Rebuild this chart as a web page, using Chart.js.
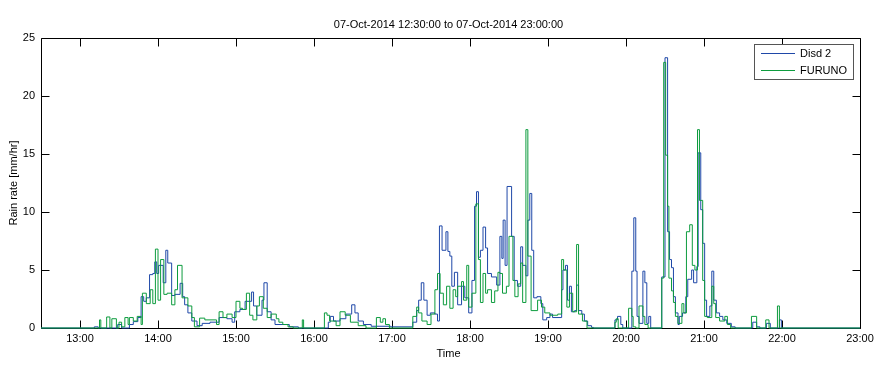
<!DOCTYPE html>
<html>
<head>
<meta charset="utf-8">
<script src="https://cdn.jsdelivr.net/npm/chart.js@4"></script>
<style>
  html, body { margin: 0; padding: 0; background: #fff; }
  #wrap { width: 882px; height: 373px; }
</style>
</head>
<body>
<div id="wrap"><canvas id="chart" width="882" height="373"></canvas></div>
<script>
const chartTitle = "07-Oct-2014 12:30:00 to 07-Oct-2014 23:00:00";
const yAxisTitle = "Rain rate [mm/hr]";
const xAxisTitle = "Time";
const seriesNames = ["Disd 2", "FURUNO"];
const xStart = "12:30:00";
const xEnd = "23:00:00";
const xTickLabels = ["13:00", "14:00", "15:00", "16:00", "17:00", "18:00",
  "19:00", "20:00", "21:00", "22:00", "23:00"];
const yTickValues = [0, 5, 10, 15, 20, 25];

// step series: each rate holds from its time until the next time
const disdTimes = [
  "12:30:00", "13:11:00", "13:14:00", "13:29:00", "13:32:00", "13:38:00", "13:41:00", "13:44:30",
  "13:47:00", "13:49:00", "13:51:00", "13:53:30", "13:56:00", "13:57:30", "13:59:00", "14:00:30",
  "14:04:00", "14:06:00", "14:07:30", "14:10:30", "14:13:00", "14:17:00", "14:19:00", "14:20:30",
  "14:23:00", "14:26:00", "14:30:00", "14:34:00", "14:40:00", "14:47:00", "14:53:00", "14:57:00",
  "14:59:00", "15:03:00", "15:07:00", "15:12:00", "15:13:30", "15:16:00", "15:20:00", "15:21:30",
  "15:24:00", "15:27:00", "15:30:00", "15:41:00", "15:48:00", "16:11:00", "16:12:30", "16:15:00",
  "16:20:00", "16:24:30", "16:29:00", "16:31:30", "16:34:00", "16:38:00", "16:44:00", "16:59:00",
  "17:16:00", "17:19:00", "17:20:30", "17:22:30", "17:24:30", "17:27:00", "17:29:30", "17:33:00",
  "17:35:00", "17:36:30", "17:38:30", "17:41:30", "17:43:00", "17:44:30", "17:46:00", "17:48:00",
  "17:50:30", "17:53:30", "17:56:00", "17:59:00", "18:01:30", "18:03:30", "18:05:00", "18:06:30",
  "18:08:00", "18:10:00", "18:12:00", "18:13:30", "18:16:30", "18:20:30", "18:23:00", "18:24:30",
  "18:25:30", "18:27:00", "18:28:30", "18:32:00", "18:34:00", "18:36:30", "18:39:00", "18:40:30",
  "18:43:00", "18:44:30", "18:46:00", "18:47:30", "18:49:00", "18:51:30", "18:54:30", "18:56:00",
  "18:59:00", "19:01:30", "19:03:30", "19:10:30", "19:11:30", "19:13:30", "19:15:00", "19:16:30",
  "19:18:00", "19:20:30", "19:22:00", "19:23:30", "19:26:00", "19:28:00", "19:30:30", "19:33:30",
  "19:35:00", "19:51:30", "19:53:30", "19:56:00", "19:57:30", "20:04:30", "20:06:00", "20:07:30",
  "20:08:30", "20:10:00", "20:13:00", "20:14:30", "20:16:00", "20:17:30", "20:19:00", "20:27:30",
  "20:30:00", "20:32:00", "20:33:30", "20:35:00", "20:36:30", "20:38:00", "20:40:00", "20:41:00",
  "20:43:30", "20:46:00", "20:47:30", "20:50:30", "20:52:00", "20:54:30", "20:55:30", "20:57:30",
  "20:59:00", "21:00:30", "21:02:00", "21:04:30", "21:06:00", "21:07:30", "21:09:30", "21:12:00",
  "21:14:30", "21:17:30", "21:21:00", "21:24:00", "21:37:30", "21:40:30", "21:43:00", "21:48:00",
  "21:51:00", "21:58:00", "21:59:30", "23:00:00"
];
const disdRates = [
  0, 0.1, 0, 0.3, 0, 0.3, 0.55, 0.9,
  2.7, 2.3, 2.6, 4.6, 4.7, 5.7, 4.7, 5.4,
  3.9, 6.7, 5.6, 2.8, 2.9, 3.85, 2.7, 2.0,
  1.3, 0.6, 0.2, 0.4, 0.5, 0.9, 0.8, 0.5,
  1.4, 1.6, 2.3, 3.1, 1.9, 1.1, 2.4, 3.9,
  1.4, 0.7, 0.3, 0.1, 0, 0.5, 1.0, 0.6,
  0.8, 1.2, 2.0, 1.3, 0.6, 0.3, 0.15, 0.1,
  0.5, 1.5, 2.4, 3.9, 2.4, 1.1, 1.3, 1.2,
  0.6, 8.8, 6.7, 8.3, 6.6, 6.2, 3.6, 4.8,
  2.0, 3.6, 2.6, 1.3, 4.1, 10.5, 11.75, 6.1,
  6.7, 8.7, 6.9, 4.7, 4.4, 3.7, 7.9, 6.0,
  9.3, 5.4, 12.2, 7.9, 4.1, 3.6, 7.0, 5.4,
  4.5, 9.3, 11.6, 6.7, 2.6, 2.7, 2.1, 0.7,
  0.9, 1.2, 0.9, 3.3, 5.0, 5.4, 2.4, 3.6,
  1.4, 1.5, 3.7, 1.5, 1.2, 0.6, 0.2, 0.05,
  0, 0.7, 1.0, 0.3, 0, 4.9, 9.5, 4.9,
  1.0, 0.4, 4.9, 3.9, 0.4, 1.0, 0, 4.4,
  23.3, 8.3, 5.9, 5.2, 2.7, 1.3, 0.3, 1.0,
  1.3, 2.7, 4.2, 5.0, 3.9, 5.3, 15.1, 10.2,
  7.3, 2.4, 1.0, 1.9, 4.9, 2.4, 1.3, 1.0,
  0.7, 0.4, 0.1, 0, 0.5, 0.1, 0, 0.4,
  0, 0.7, 0, 0
];

const furunoTimes = [
  "12:30:00", "13:15:00", "13:16:00", "13:20:30", "13:23:00", "13:24:30", "13:28:00", "13:30:00",
  "13:32:00", "13:34:30", "13:37:00", "13:38:00", "13:41:00", "13:44:00", "13:47:00", "13:48:00",
  "13:51:00", "13:54:00", "13:56:00", "13:58:00", "14:00:00", "14:02:00", "14:04:30", "14:07:00",
  "14:10:30", "14:13:00", "14:15:00", "14:18:30", "14:23:00", "14:26:00", "14:28:00", "14:32:00",
  "14:36:00", "14:45:00", "14:47:00", "14:50:00", "14:53:00", "14:57:00", "15:00:00", "15:03:00",
  "15:05:00", "15:08:00", "15:10:30", "15:13:00", "15:16:00", "15:18:00", "15:21:00", "15:24:00",
  "15:27:00", "15:31:00", "15:33:00", "15:36:00", "15:40:00", "15:44:00", "15:51:00", "15:52:00",
  "16:08:00", "16:10:00", "16:12:00", "16:17:00", "16:20:00", "16:24:00", "16:28:00", "16:34:00",
  "16:40:00", "16:48:00", "16:51:00", "16:53:00", "16:55:00", "16:58:00", "17:16:00", "17:19:00",
  "17:20:30", "17:23:00", "17:27:00", "17:30:00", "17:33:00", "17:35:00", "17:37:00", "17:39:30",
  "17:42:00", "17:44:30", "17:47:00", "17:49:00", "17:50:30", "17:53:30", "17:55:00", "17:57:30",
  "17:59:00", "18:01:30", "18:04:30", "18:06:30", "18:08:00", "18:10:00", "18:12:00", "18:13:30",
  "18:16:30", "18:19:00", "18:21:30", "18:23:00", "18:25:00", "18:28:00", "18:30:00", "18:33:00",
  "18:34:30", "18:37:00", "18:39:00", "18:40:30", "18:43:00", "18:44:30", "18:47:00", "18:52:00",
  "18:55:00", "18:57:30", "19:01:30", "19:07:30", "19:10:30", "19:12:00", "19:14:30", "19:16:30",
  "19:19:00", "19:22:00", "19:23:30", "19:26:30", "19:30:00", "19:51:30", "19:52:30", "19:54:00",
  "20:02:00", "20:04:30", "20:05:30", "20:07:30", "20:10:00", "20:13:00", "20:14:30", "20:17:00",
  "20:27:30", "20:29:00", "20:30:30", "20:32:00", "20:33:00", "20:35:00", "20:36:30", "20:38:00",
  "20:40:00", "20:43:00", "20:44:30", "20:46:30", "20:49:00", "20:51:00", "20:53:00", "20:55:00",
  "20:56:30", "20:59:00", "21:00:30", "21:02:30", "21:06:00", "21:07:30", "21:09:00", "21:12:00",
  "21:16:00", "21:18:00", "21:20:30", "21:36:30", "21:40:30", "21:47:30", "21:50:00", "21:56:30",
  "21:58:00", "23:00:00"
];
const furunoRates = [
  0, 0.7, 0, 0.95, 0, 0.8, 0, 0.5,
  0.1, 0.9, 0.3, 0.9, 0.6, 1.0, 0.3, 3.0,
  2.1, 3.3, 2.1, 6.8, 2.4, 5.9, 2.9, 3.0,
  2.0, 3.3, 5.4, 2.6, 1.9, 0.9, 0.1, 0.85,
  0.7, 0.3, 1.4, 0.9, 1.2, 0.9, 2.3, 1.7,
  1.6, 3.0, 1.1, 0.7, 1.9, 2.7, 1.7, 0.9,
  1.2, 0.8, 0.5, 0.3, 0.1, 0, 0.7, 0,
  1.3, 1.1, 0.6, 0.2, 1.4, 1.1, 0.5, 0.2,
  0, 0.9, 0.5, 0.8, 0.3, 0, 1.0, 1.8,
  1.3, 0.6, 0.3, 1.2, 3.3, 4.7, 3.0, 2.0,
  3.6, 1.7, 3.3, 2.7, 3.6, 4.0, 2.4, 5.4,
  1.8, 3.0, 10.7, 5.9, 2.2, 4.7, 3.0, 3.3,
  2.2, 3.2, 4.8, 4.7, 3.0, 3.6, 7.9, 4.1,
  2.7, 3.8, 5.6, 2.2, 17.1, 6.2, 1.5, 2.4,
  1.8, 1.3, 1.1, 1.2, 5.9, 5.0, 1.8, 3.0,
  1.4, 7.2, 1.2, 0.6, 0, 0.5, 0.8, 0,
  1.7, 1.0, 0.1, 0, 1.9, 1.0, 0.3, 0,
  4.3, 22.9, 14.9, 10.5, 4.3, 3.2, 2.2, 1.0,
  0.4, 2.1, 1.3, 8.3, 8.9, 5.4, 5.0, 17.1,
  11.0, 4.1, 1.0, 0.9, 3.6, 2.1, 0.9, 0.6,
  1.0, 0.3, 0, 1.0, 0, 0.7, 0, 1.9,
  0, 0
];

const blue = "#1f48a8";
const green = "#0d9c3e";
const fontFamily = "'Liberation Sans', Arial, sans-serif";

// "HH:MM[:SS]" -> minutes after midnight
function toMinutes(label) {
  const parts = label.split(":").map(Number);
  return parts[0] * 60 + parts[1] + (parts[2] || 0) / 60;
}

function toPoints(times, rates) {
  if (times.length !== rates.length) console.warn("length mismatch", times.length, rates.length);
  return times.map((t, i) => ({ x: toMinutes(t), y: rates[i] }));
}

function pad2(n) {
  return String(n).padStart(2, "0");
}

const framePlugin = {
  id: "matlabFrame",
  beforeDatasetsDraw(chart) {
    const { ctx, chartArea } = chart;
    const xScale = chart.scales.x;
    const yScale = chart.scales.y;
    const left = Math.round(chartArea.left) + 0.5;
    const right = Math.round(chartArea.right) + 0.5;
    const top = Math.round(chartArea.top) + 0.5;
    const bottom = Math.round(chartArea.bottom) + 0.5;
    const tick = 8;

    ctx.save();
    ctx.strokeStyle = "#000";
    ctx.lineWidth = 1;
    ctx.beginPath();
    ctx.rect(left, top, right - left, bottom - top);
    for (const label of xTickLabels) {
      const px = Math.round(xScale.getPixelForValue(toMinutes(label))) + 0.5;
      ctx.moveTo(px, bottom);
      ctx.lineTo(px, bottom - tick);
      ctx.moveTo(px, top);
      ctx.lineTo(px, top + tick);
    }
    for (const v of yTickValues) {
      const py = Math.round(yScale.getPixelForValue(v)) + 0.5;
      ctx.moveTo(left, py);
      ctx.lineTo(left + tick, py);
      ctx.moveTo(right, py);
      ctx.lineTo(right - tick, py);
    }
    ctx.stroke();
    ctx.restore();
  },
  afterDraw(chart) {
    const { ctx, chartArea } = chart;
    const midX = (chartArea.left + chartArea.right) / 2;
    const midY = (chartArea.top + chartArea.bottom) / 2;

    ctx.save();
    ctx.fillStyle = "#000";
    ctx.font = "11px " + fontFamily;
    ctx.textAlign = "center";
    ctx.textBaseline = "middle";
    ctx.fillText(chartTitle, midX - 2, 25);
    ctx.fillText(xAxisTitle, midX - 2, 354);

    ctx.save();
    ctx.translate(14, midY);
    ctx.rotate(-Math.PI / 2);
    ctx.fillText(yAxisTitle, 0, 0);
    ctx.restore();

    // legend box, top right inside the axes
    const boxX = 754.5, boxY = 44.5, boxW = 99, boxH = 35;
    ctx.fillStyle = "#fff";
    ctx.fillRect(boxX, boxY, boxW, boxH);
    ctx.strokeStyle = "#555";
    ctx.lineWidth = 1;
    ctx.strokeRect(boxX, boxY, boxW, boxH);

    const colors = [blue, green];
    const rows = [53.5, 70.5];
    ctx.textAlign = "left";
    for (let i = 0; i < seriesNames.length; i++) {
      ctx.strokeStyle = colors[i];
      ctx.beginPath();
      ctx.moveTo(761, rows[i]);
      ctx.lineTo(795, rows[i]);
      ctx.stroke();
      ctx.fillStyle = "#000";
      ctx.fillText(seriesNames[i], 800, rows[i] + 0.5);
    }
    ctx.restore();
  }
};

const chart = new Chart(document.getElementById("chart"), {
  type: "line",
  data: {
    datasets: [
      {
        label: seriesNames[0],
        data: toPoints(disdTimes, disdRates),
        borderColor: blue,
        borderWidth: 1,
        stepped: "before",
        pointRadius: 0,
        fill: false,
        clip: 2,
        order: 0
      },
      {
        label: seriesNames[1],
        data: toPoints(furunoTimes, furunoRates),
        borderColor: green,
        borderWidth: 1,
        stepped: "before",
        pointRadius: 0,
        fill: false,
        clip: 2,
        order: -1
      }
    ]
  },
  options: {
    responsive: false,
    animation: false,
    devicePixelRatio: 1,
    layout: { padding: { top: 38, right: 22, left: 0, bottom: 0 } },
    plugins: {
      legend: { display: false },
      title: { display: false },
      tooltip: { enabled: false }
    },
    scales: {
      x: {
        type: "linear",
        min: toMinutes(xStart),
        max: toMinutes(xEnd),
        grid: { display: false, drawTicks: false },
        border: { display: false },
        afterBuildTicks(scale) {
          scale.ticks = xTickLabels.map((l) => ({ value: toMinutes(l) }));
        },
        afterFit(scale) {
          scale.height = 45;
        },
        ticks: {
          autoSkip: false,
          maxRotation: 0,
          padding: 4,
          color: "#000",
          font: { family: fontFamily, size: 11 },
          callback: (v) => pad2(Math.floor(v / 60)) + ":" + pad2(Math.round(v % 60))
        }
      },
      y: {
        min: 0,
        max: 25,
        grid: { display: false, drawTicks: false },
        border: { display: false },
        afterBuildTicks(scale) {
          scale.ticks = yTickValues.map((v) => ({ value: v }));
        },
        afterFit(scale) {
          scale.width = 41;
        },
        ticks: {
          padding: 6,
          color: "#000",
          font: { family: fontFamily, size: 11 }
        }
      }
    }
  },
  plugins: [framePlugin]
});
</script>
</body>
</html>
